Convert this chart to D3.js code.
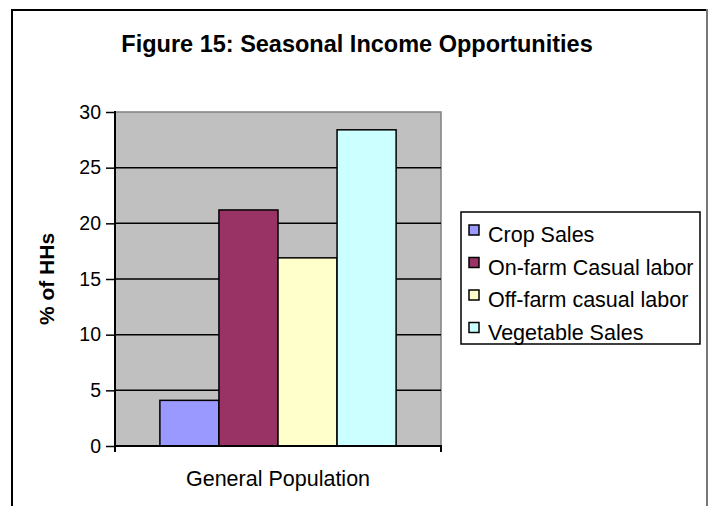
<!DOCTYPE html>
<html>
<head>
<meta charset="utf-8">
<script src="https://cdn.jsdelivr.net/npm/d3@7"></script>
<style>
  body { margin: 0; background: #fff; }
  text { font-family: Arial, "Liberation Sans", sans-serif; }
</style>
</head>
<body>
<div id="chart"><svg width="709" height="506"></svg></div>
<script>
// data
var categories = ["General Population"];
var seriesNames = ["Crop Sales", "On-farm Casual labor", "Off-farm casual labor", "Vegetable Sales"];
var seriesValues = [4.1, 21.2, 16.9, 28.4];
var seriesColors = ["#9999FF", "#993366", "#FFFFCC", "#CCFFFF"];
var yTicks = [0, 5, 10, 15, 20, 25, 30];

function BarChart() {
  var svg = d3.select("#chart svg");

  // outer chart frame
  svg.append("rect")
    .attr("x", 12).attr("y", 10)
    .attr("width", 695).attr("height", 520)
    .attr("fill", "#fff")
    .attr("stroke", "#000")
    .attr("stroke-width", 2);
  svg.append("line")
    .attr("x1", 707).attr("x2", 707)
    .attr("y1", 9).attr("y2", 506)
    .attr("stroke", "#777").attr("stroke-width", 2);

  var left = 115, right = 441, top = 112, bottom = 446;

  var x = d3.scaleBand().domain(categories).range([left, right]).paddingInner(0).paddingOuter(0.19);
  var xs = d3.scaleBand().domain(seriesNames).range([0, x.bandwidth()]);
  var y = d3.scaleLinear().domain([0, 30]).range([bottom, top]);

  // plot area
  svg.append("rect")
    .attr("x", left).attr("y", top)
    .attr("width", right - left).attr("height", bottom - top)
    .attr("fill", "#C0C0C0")
    .attr("stroke", "#808080")
    .attr("stroke-width", 1.5);

  // gridlines
  svg.append("g")
    .selectAll("line")
    .data(yTicks.filter(function(d) { return d > 0 && d < 30; }))
    .enter().append("line")
    .attr("x1", left).attr("x2", right)
    .attr("y1", function(d) { return y(d); })
    .attr("y2", function(d) { return y(d); })
    .attr("stroke", "#000")
    .attr("stroke-width", 1.5);

  // bars
  var g = svg.append("g");
  categories.forEach(function(c) {
    g.selectAll(".bar")
      .data(seriesValues)
      .enter().append("rect")
      .attr("class", "bar")
      .attr("x", function(d, i) { return x(c) + xs(seriesNames[i]); })
      .attr("y", function(d) { return y(d); })
      .attr("width", xs.bandwidth())
      .attr("height", function(d) { return y(0) - y(d); })
      .attr("fill", function(d, i) { return seriesColors[i]; })
      .attr("stroke", "#000")
      .attr("stroke-width", 1.5);
  });

  // y axis
  var yAxis = svg.append("g")
    .attr("transform", "translate(" + left + ",0)")
    .call(d3.axisLeft(y).tickValues(yTicks).tickSize(9).tickPadding(5));
  yAxis.select(".domain").attr("stroke-width", 2).attr("d", "M0," + (top - 1) + "V" + bottom);
  yAxis.selectAll(".tick line").attr("stroke-width", 1.5);
  yAxis.selectAll("text")
    .style("font-size", "19.5px")
    .attr("fill", "#000");

  // x axis
  var xAxis = svg.append("g")
    .attr("transform", "translate(0," + bottom + ")")
    .call(d3.axisBottom(x).tickSize(0).tickPadding(25));
  xAxis.select(".domain").attr("stroke-width", 2).attr("d", "M" + left + ",6V0H" + right + "V6");
  xAxis.selectAll("text")
    .style("font-size", "21.5px")
    .attr("fill", "#000");

  // title
  svg.append("text")
    .attr("x", 357)
    .attr("y", 52)
    .attr("text-anchor", "middle")
    .style("font-size", "23.5px")
    .style("font-weight", "bold")
    .text("Figure 15: Seasonal Income Opportunities");

  // y axis title
  svg.append("text")
    .attr("transform", "translate(54," + ((top + bottom) / 2) + ") rotate(-90)")
    .attr("text-anchor", "middle")
    .style("font-size", "21px")
    .style("font-weight", "bold")
    .text("% of HHs");

  // legend
  var lg = svg.append("g").attr("transform", "translate(461,212)");
  lg.append("rect")
    .attr("width", 239).attr("height", 132)
    .attr("fill", "#fff")
    .attr("stroke", "#000")
    .attr("stroke-width", 1.5);
  var item = lg.selectAll(".item")
    .data(seriesNames)
    .enter().append("g")
    .attr("class", "item")
    .attr("transform", function(d, i) { return "translate(0," + (22 + i * 32.5) + ")"; });
  item.append("rect")
    .attr("x", 8).attr("y", -9)
    .attr("width", 10).attr("height", 10)
    .attr("fill", function(d, i) { return seriesColors[i]; })
    .attr("stroke", "#000")
    .attr("stroke-width", 1.5);
  item.append("text")
    .attr("x", 27)
    .attr("y", 8)
    .style("font-size", "21.5px")
    .text(function(d) { return d; });
}

BarChart();
</script>
</body>
</html>
